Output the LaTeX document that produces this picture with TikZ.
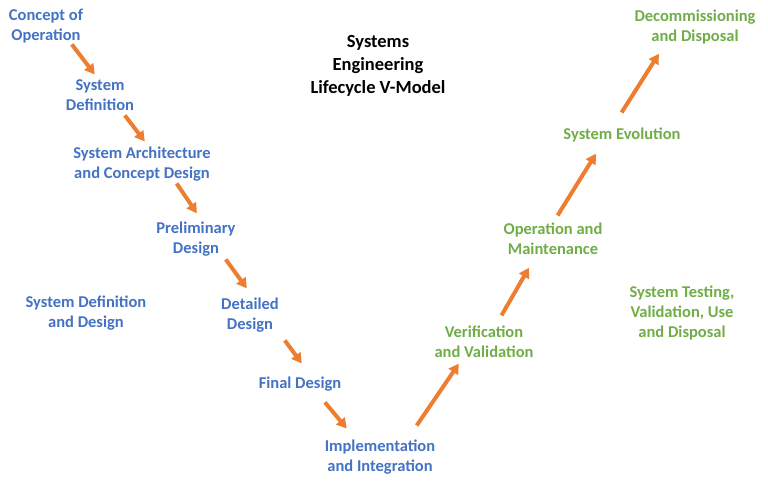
\documentclass[tikz,border=0pt]{standalone}
\usepackage{fontspec}
\setmainfont{Carlito}
\usetikzlibrary{arrows.meta}
\definecolor{vblue}{HTML}{4472C4}
\definecolor{vgreen}{HTML}{70AD47}
\definecolor{vorange}{HTML}{ED7D31}
\begin{document}
\begin{tikzpicture}[x=1pt,y=-1pt,
  lb/.style={align=center,font=\bfseries\fontsize{16.5}{20}\selectfont,text=vblue,inner sep=1pt},
  lg/.style={lb,text=vgreen},
  arr/.style={draw=vorange,line width=4pt,-{Triangle[length=10pt,width=11pt]},shorten <=3pt,shorten >=2pt}]
\useasboundingbox (0,0) rectangle (768,483);
\node[lb] (a) at (46,26) {Concept of\\Operation};
\node[lb] (b) at (100,95) {System\\Definition};
\node[lb] (c) at (142,164) {System Architecture\\and Concept Design};
\node[lb] (d) at (196,239) {Preliminary\\Design};
\node[lb] (e) at (250,315) {Detailed\\Design};
\node[lb] (f) at (300,384) {Final Design};
\node[lb] (g) at (380,457) {Implementation\\and Integration};
\node[lg] (h) at (484,342) {Verification\\and Validation};
\node[lg] (i) at (553,239) {Operation and\\Maintenance};
\node[lg] (j) at (622,135) {System Evolution};
\node[lg] (k) at (695,27) {Decommissioning\\and Disposal};
\node[lb,text=black,font=\bfseries\fontsize{18.5}{23}\selectfont] (t) at (378,66) {Systems\\Engineering\\Lifecycle V-Model};
\node[lb] (l) at (86,313) {System Definition\\and Design};
\node[lg] (m) at (682,313) {System Testing,\\Validation, Use\\and Disposal};
\coordinate (a1) at (70,42); \coordinate (b0) at (96,76);
\coordinate (b1) at (123,113); \coordinate (c0) at (146,143);
\coordinate (c1) at (175,181); \coordinate (d0) at (198,215);
\coordinate (d1) at (224,257); \coordinate (e0) at (248,290);
\coordinate (e1) at (283,338); \coordinate (f0) at (303,365);
\coordinate (f1) at (323,400); \coordinate (g0) at (348,430);
\coordinate (g1) at (415,428); \coordinate (h0) at (460,362);
\coordinate (h1) at (500,318); \coordinate (i0) at (530,266);
\coordinate (i1) at (556,218); \coordinate (j0) at (597,152);
\coordinate (j1) at (620,115); \coordinate (k0) at (660,52);
\draw[arr] (a1) -- (b0);
\draw[arr] (b1) -- (c0);
\draw[arr] (c1) -- (d0);
\draw[arr] (d1) -- (e0);
\draw[arr] (e1) -- (f0);
\draw[arr] (f1) -- (g0);
\draw[arr] (g1) -- (h0);
\draw[arr] (h1) -- (i0);
\draw[arr] (i1) -- (j0);
\draw[arr] (j1) -- (k0);
\end{tikzpicture}
\end{document}
